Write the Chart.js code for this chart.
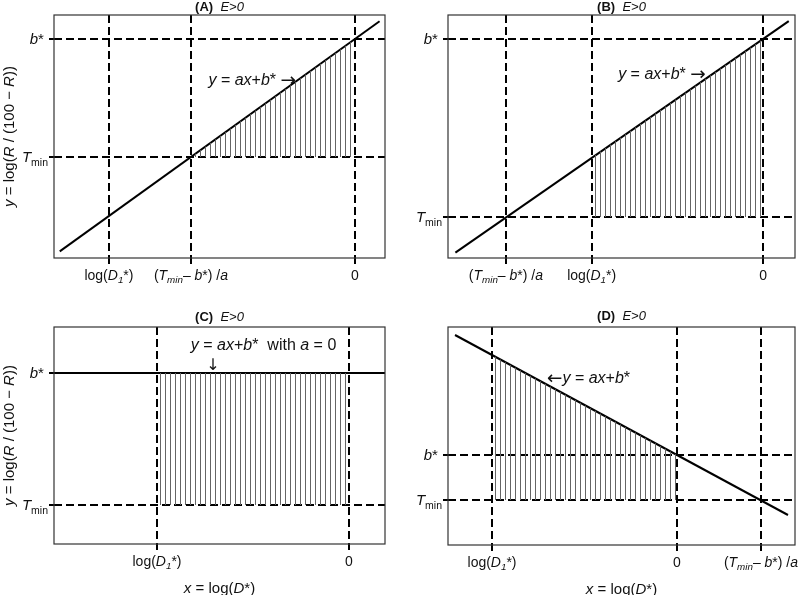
<!DOCTYPE html>
<html>
<head>
<meta charset="utf-8">
<script src="https://cdn.jsdelivr.net/npm/chart.js@4.4.0/dist/chart.umd.min.js"></script>
<style>
  body { margin: 0; background: #fff; }
  #wrap { position: relative; width: 800px; height: 595px; }
  canvas { position: absolute; }
</style>
</head>
<body>
<div id="wrap">
  <canvas id="pA" width="400" height="297" style="left:0;top:0"></canvas>
  <canvas id="pB" width="400" height="297" style="left:400px;top:0"></canvas>
  <canvas id="pC" width="400" height="298" style="left:0;top:297px"></canvas>
  <canvas id="pD" width="400" height="298" style="left:400px;top:297px"></canvas>
</div>
<script>
// rich labels: [text, style]  i = italic, s = subscript, b = bold, a = arrow glyph
const LOG_D1 = [['log(', ''], ['D', 'i'], ['1', 'is'], ['*)', '']];
const XT_LABEL = [['(', ''], ['T', 'i'], ['min', 'is'], ['– ', ''], ['b', 'i'], ['*) /', ''], ['a', 'i']];
const ZERO = [['0', '']];
const B_STAR = [['b', 'i'], ['* ', '']];
const T_MIN = [['T', 'i'], ['min', 's']];
const Y_TITLE = [['y', 'i'], [' = log(', ''], ['R', 'i'], [' / (100 − ', ''], ['R', 'i'], ['))', '']];
const X_TITLE = [['x', 'i'], [' = log(', ''], ['D', 'i'], ['*)', '']];
const EQ = [['y', 'i'], [' = ', ''], ['ax', 'i'], ['+', ''], ['b', 'i'], ['*', '']];

// (A)
const aXTicks = [-3, -2, 0];
const aXLabels = [LOG_D1, XT_LABEL, ZERO];
const aYTicks = [1, 2];
const aYLabels = [T_MIN, B_STAR];
const aLine = [{ x: -3.6, y: 0.2 }, { x: 0.3, y: 2.15 }];
const aShade = [{ x: -2, y: 1 }, { x: 0, y: 2 }];

// (B)
const bXTicks = [-3, -2, 0];
const bXLabels = [XT_LABEL, LOG_D1, ZERO];
const bYTicks = [0.5, 2];
const bYLabels = [T_MIN, B_STAR];
const bLine = [{ x: -3.59, y: 0.2 }, { x: 0.3, y: 2.15 }];
const bShade = [{ x: -2, y: 1 }, { x: 0, y: 2 }];

// (C)
const cXTicks = [-2, 0];
const cXLabels = [LOG_D1, ZERO];
const cYTicks = [1, 2];
const cYLabels = [T_MIN, B_STAR];
const cLine = [{ x: -3.1, y: 2 }, { x: 0.4, y: 2 }];
const cShade = [{ x: -2, y: 2 }, { x: 0, y: 2 }];

// (D)
const dXTicks = [-2, 0, 0.908];
const dXLabels = [LOG_D1, ZERO, XT_LABEL];
const dYTicks = [0.55, 1];
const dYLabels = [T_MIN, B_STAR];
const dLine = [{ x: -2.4, y: 2.2 }, { x: 1.2, y: 0.4 }];
const dShade = [{ x: -2, y: 2 }, { x: 0, y: 1 }];

const FONT = '"Liberation Sans", Arial, sans-serif';

function segFont(st, size) {
  if (st.includes('a')) return (size * 1.15) + 'px "DejaVu Sans", sans-serif';
  const sz = st.includes('s') ? size * 0.7 : size;
  return (st.includes('i') ? 'italic ' : '') + (st.includes('b') ? 'bold ' : '') + sz + 'px ' + FONT;
}

function richWidth(ctx, segs, size) {
  let w = 0;
  segs.forEach(([t, st]) => { ctx.font = segFont(st, size); w += ctx.measureText(t).width; });
  return w;
}

// y is the vertical middle of the text
function drawRich(ctx, segs, x, y, size, align) {
  const w = richWidth(ctx, segs, size);
  let cx = align === 'center' ? x - w / 2 : align === 'right' ? x - w : x;
  const base = y + size * 0.36;
  ctx.textAlign = 'left';
  ctx.textBaseline = 'alphabetic';
  ctx.fillStyle = '#111';
  segs.forEach(([t, st]) => {
    ctx.font = segFont(st, size);
    let dy = 0;
    if (st.includes('s')) dy = size * 0.22;
    if (st.includes('a')) dy = size * 0.08;
    ctx.fillText(t, cx, base + dy);
    cx += ctx.measureText(t).width;
  });
}

function hatch(ctx) {
  const c = document.createElement('canvas');
  c.width = 5; c.height = 4;
  const g = c.getContext('2d');
  g.fillStyle = '#666';
  g.fillRect(0, 0, 1, 4);
  return ctx.createPattern(c, 'repeat');
}

function makePanel(spec) {
  const ctx = document.getElementById(spec.id).getContext('2d');

  const textPlugin = {
    id: 'panelText',
    afterDraw(chart) {
      const c = chart.ctx, area = chart.chartArea;
      const xs = chart.scales.x, ys = chart.scales.y;
      c.save();
      // plot box
      c.strokeStyle = '#333';
      c.lineWidth = 1.2;
      c.strokeRect(area.left, area.top, area.right - area.left, area.bottom - area.top);

      // panel title
      const title = [[spec.tag, 'b'], ['  ', ''], ['E>0', 'i']];
      drawRich(c, title, (area.left + area.right) / 2, spec.titleY, 13, 'center');

      // tick labels
      spec.xTicks.forEach((v, i) => drawRich(c, spec.xLabels[i], xs.getPixelForValue(v), area.bottom + 17, 14, 'center'));
      spec.yTicks.forEach((v, i) => drawRich(c, spec.yLabels[i], area.left - 6, ys.getPixelForValue(v), 15, 'right'));

      // axis titles
      if (spec.yTitle) {
        c.save();
        c.translate(9, (area.top + area.bottom) / 2);
        c.rotate(-Math.PI / 2);
        drawRich(c, Y_TITLE, 0, 0, 15, 'center');
        c.restore();
      }
      if (spec.xTitle) {
        drawRich(c, X_TITLE, (area.left + area.right) / 2, area.bottom + 44, 15, 'center');
      }

      // equation annotation
      const n = spec.note;
      drawRich(c, n.segs, xs.getPixelForValue(n.x), ys.getPixelForValue(n.y), 16, n.align);
      if (n.down) {
        drawRich(c, [['↓', 'a']], xs.getPixelForValue(n.down[0]), ys.getPixelForValue(n.down[1]), 14, 'center');
      }
      c.restore();
    }
  };

  const dash = [8, 4];
  return new Chart(ctx, {
    type: 'line',
    data: {
      datasets: [
        {
          data: spec.shade,
          fill: { value: spec.yTicks[0] },
          backgroundColor: hatch(ctx),
          borderColor: 'rgba(0,0,0,0)',
          borderWidth: 0,
          pointRadius: 0
        },
        {
          data: spec.line,
          fill: false,
          borderColor: '#000',
          borderWidth: 2,
          pointRadius: 0
        }
      ]
    },
    options: {
      responsive: false,
      animation: false,
      events: [],
      layout: { padding: { top: spec.padTop, right: spec.padRight, left: 0, bottom: 0 } },
      plugins: { legend: { display: false }, tooltip: { enabled: false } },
      scales: {
        x: {
          type: 'linear',
          min: spec.xMin, max: spec.xMax,
          afterBuildTicks: s => { s.ticks = spec.xTicks.map(v => ({ value: v })); },
          afterFit: s => { s.height = spec.xAxisH; },
          ticks: { display: false },
          grid: { color: '#000', lineWidth: 2, borderDash: dash, tickLength: 9, tickColor: '#000', tickWidth: 2, tickBorderDash: [6, 3] },
          border: { display: false, dash: dash }
        },
        y: {
          type: 'linear',
          min: spec.yMin, max: spec.yMax,
          afterBuildTicks: s => { s.ticks = spec.yTicks.map(v => ({ value: v })); },
          afterFit: s => { s.width = spec.yAxisW; },
          ticks: { display: false },
          grid: { color: '#000', lineWidth: 2, borderDash: dash, tickLength: 5, tickColor: '#000', tickWidth: 2 },
          border: { display: false, dash: dash }
        }
      }
    },
    plugins: [textPlugin]
  });
}

makePanel({
  id: 'pA', tag: '(A)', titleY: 6, padTop: 15, padRight: 15, yAxisW: 54, xAxisH: 39,
  xMin: -3.67, xMax: 0.366, yMin: 0.144, yMax: 2.203,
  xTicks: aXTicks, xLabels: aXLabels, yTicks: aYTicks, yLabels: aYLabels,
  line: aLine, shade: aShade, yTitle: true, xTitle: false,
  note: { segs: EQ.concat([[' ', ''], ['→', 'a']]), x: -0.72, y: 1.66, align: 'right' }
});

makePanel({
  id: 'pB', tag: '(B)', titleY: 6, padTop: 15, padRight: 5, yAxisW: 48, xAxisH: 39,
  xMin: -3.676, xMax: 0.373, yMin: 0.1545, yMax: 2.202,
  xTicks: bXTicks, xLabels: bXLabels, yTicks: bYTicks, yLabels: bYLabels,
  line: bLine, shade: bShade, yTitle: false, xTitle: false,
  note: { segs: EQ.concat([[' ', ''], ['→', 'a']]), x: -0.67, y: 1.71, align: 'right' }
});

makePanel({
  id: 'pC', tag: '(C)', titleY: 19, padTop: 30, padRight: 15, yAxisW: 54, xAxisH: 51,
  xMin: -3.073, xMax: 0.375, yMin: 0.705, yMax: 2.348,
  xTicks: cXTicks, xLabels: cXLabels, yTicks: cYTicks, yLabels: cYLabels,
  line: cLine, shade: cShade, yTitle: true, xTitle: true,
  note: { segs: EQ.concat([['  with ', ''], ['a', 'i'], [' = 0', '']]), x: -0.89, y: 2.22, align: 'center', down: [-1.417, 2.07] }
});

makePanel({
  id: 'pD', tag: '(D)', titleY: 18, padTop: 30, padRight: 5, yAxisW: 48, xAxisH: 50,
  xMin: -2.476, xMax: 1.276, yMin: 0.10, yMax: 2.28,
  xTicks: dXTicks, xLabels: dXLabels, yTicks: dYTicks, yLabels: dYLabels,
  line: dLine, shade: dShade, yTitle: false, xTitle: true,
  note: { segs: [['←', 'a']].concat(EQ), x: -1.405, y: 1.78, align: 'left' }
});
</script>
</body>
</html>
